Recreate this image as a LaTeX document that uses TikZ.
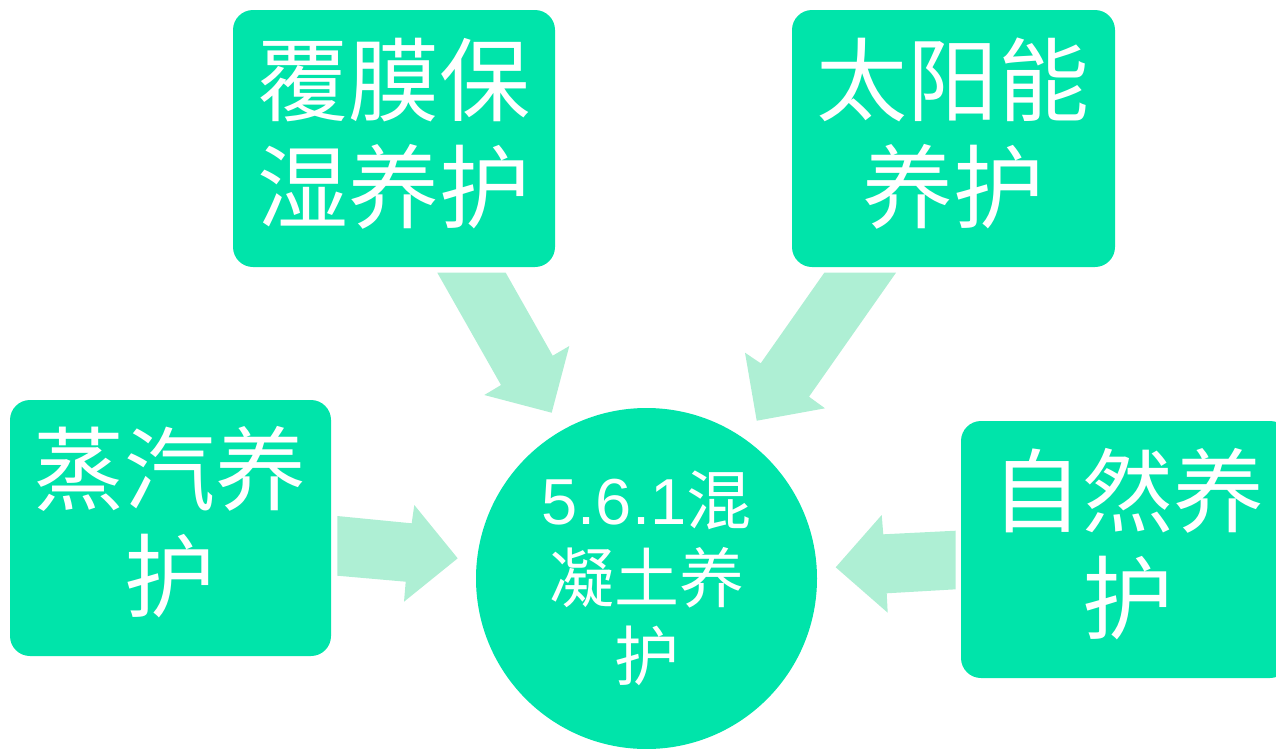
\documentclass[tikz,border=0pt]{standalone}
\usepackage{fontspec}
\setmainfont{Liberation Sans}
\newfontfamily\cjk{Noto Sans CJK SC}
\definecolor{boxgreen}{HTML}{00E4AA}
\definecolor{arrowgreen}{HTML}{AEEFD4}
\tikzset{
  box/.style={fill=boxgreen, rounded corners=20pt, draw=none},
  boxtext/.style={text=white, align=center, font=\cjk\fontsize{91}{107}\selectfont},
  circtext/.style={text=white, align=center, font=\cjk\fontsize{65}{78}\selectfont},
  blockarrow/.style={fill=arrowgreen, draw=none},
}
\begin{document}
\begin{tikzpicture}[x=1pt,y=-1pt]
\useasboundingbox (0,0) rectangle (1276,748);
\clip (0,0) rectangle (1276,748);
% boxes
\fill[box] (233,10) rectangle (555,267);
\fill[box] (792,10) rectangle (1115,267);
\fill[box] (10,400) rectangle (331,656);
\fill[box] (961,421) rectangle (1290,678);
\node[boxtext] (tl) at (394,134) {覆膜保\\湿养护};
\node[boxtext] (tr) at (953,134) {太阳能\\养护};
\node[boxtext] (l) at (170,522) {蒸汽养\\护};
\node[boxtext] (r) at (1128,544) {自然养\\护};
% circle
\fill[boxgreen] (646.5,578.5) circle (170.5);
\node[circtext] (c) at (646.5,578) {{\fontspec{Liberation Sans}5.6.1}混\\凝土养\\护};
% arrows
\fill[blockarrow] (437.3,272.7) -- (505.7,272.7) -- (552.7,355.7) -- (569.3,346) -- (551.7,412.7) -- (484.3,395) -- (501,385) -- cycle;
\fill[blockarrow] (824.3,272.7) -- (896,272.7) -- (809,396.7) -- (825,408.3) -- (756.7,420.7) -- (745,352.7) -- (760.7,363.3) -- cycle;
\fill[blockarrow] (337.3,516) -- (411.7,523.3) -- (414.3,505) -- (457.7,558.3) -- (404,601.7) -- (405.7,581.7) -- (337.3,575.7) -- cycle;
\fill[blockarrow] (955.7,530.7) -- (883.3,534.3) -- (881.7,515) -- (835.7,567.3) -- (887.7,612.7) -- (886.7,593.3) -- (955.7,589.3) -- cycle;
\end{tikzpicture}
\end{document}
